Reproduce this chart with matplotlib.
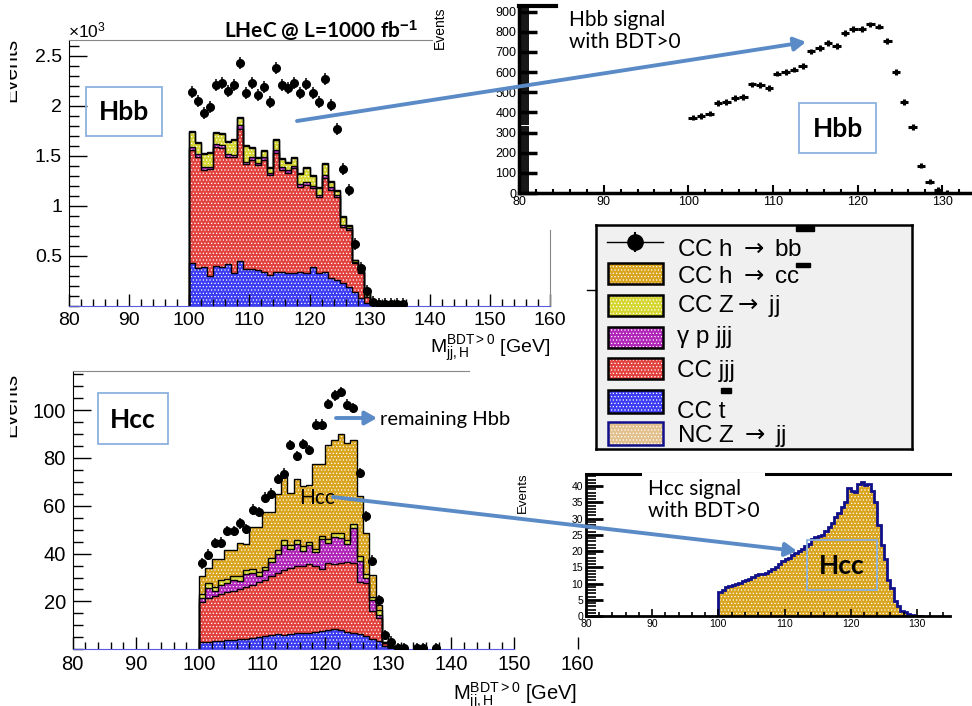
import numpy as np
import matplotlib.pyplot as plt
from matplotlib.patches import Rectangle
from matplotlib.ticker import MultipleLocator, FixedLocator

plt.rcParams['font.family'] = ['Liberation Sans', 'DejaVu Sans']
plt.rcParams['mathtext.fontset'] = 'custom'
plt.rcParams['mathtext.rm'] = 'Liberation Sans'
plt.rcParams['mathtext.it'] = 'Liberation Sans:italic'
plt.rcParams['mathtext.bf'] = 'Liberation Sans:bold'
plt.rcParams['mathtext.sf'] = 'DejaVu Sans'
plt.rcParams['hatch.color'] = 'white'
plt.rcParams['hatch.linewidth'] = 0.5

# ----------------------------
# data
# ----------------------------
edges = np.arange(100, 132)          # 1 GeV bins, 100..131

# Hbb selection, x10^3 events
hbb_cct = [0.43, 0.38, 0.39, 0.30, 0.40, 0.39, 0.42, 0.33, 0.45, 0.37, 0.37, 0.36, 0.34, 0.31, 0.34, 0.34,
           0.33, 0.33, 0.34, 0.33, 0.39, 0.33, 0.34, 0.28, 0.26, 0.23, 0.19, 0.14, 0.08, 0.03, 0.01]
hbb_ccjjj = [1.13, 1.11, 0.97, 1.07, 1.19, 1.19, 1.07, 1.16, 1.32, 1.05, 1.09, 1.05, 1.12, 1.00, 1.19, 1.02,
             1.00, 1.05, 0.85, 0.88, 0.79, 0.76, 0.94, 0.88, 0.83, 0.56, 0.57, 0.29, 0.25, 0.06, 0.02]
hbb_gpjjj = [0.03, 0.03, 0.03, 0.02, 0.03, 0.03, 0.03, 0.02, 0.04, 0.02, 0.03, 0.02, 0.03, 0.02, 0.03, 0.03,
             0.03, 0.02, 0.03, 0.03, 0.02, 0.02, 0.03, 0.03, 0.02, 0.02, 0.02, 0.01, 0.01, 0.00, 0.00]
hbb_ccz = [0.15, 0.11, 0.13, 0.14, 0.11, 0.11, 0.12, 0.15, 0.07, 0.16, 0.09, 0.05, 0.06, 0.05, 0.10, 0.08,
           0.07, 0.08, 0.10, 0.14, 0.10, 0.07, 0.11, 0.05, 0.04, 0.08, 0.02, 0.02, 0.02, 0.04, 0.01]
hbb_cchcc = [0.01, 0.01, 0.01, 0.01, 0.01, 0.01, 0.01, 0.01, 0.01, 0.01, 0.01, 0.01, 0.01, 0.01, 0.01, 0.01,
             0.01, 0.01, 0.01, 0.01, 0.01, 0.01, 0.01, 0.01, 0.01, 0.01, 0.01, 0.00, 0.00, 0.00, 0.00]
hbb_data_x = np.arange(100.5, 136.0, 1.0)
hbb_data = [2.14, 2.05, 1.93, 1.99, 2.21, 2.23, 2.15, 2.21, 2.43, 2.13, 2.23, 2.11, 2.19, 2.04, 2.38, 2.21,
            2.18, 2.23, 2.13, 2.22, 2.13, 2.04, 2.27, 2.01, 1.77, 1.37, 1.16, 0.62, 0.38, 0.15, 0.04, 0.02,
            0.02, 0.02, 0.02, 0.02]

# Hcc selection, events
hcc_cct = [3.0, 3.2, 3.3, 3.5, 3.8, 4.0, 4.3, 4.5, 4.8, 5.0, 5.5, 5.8, 6.5, 6.0, 6.5, 6.8,
           6.8, 7.0, 7.2, 7.5, 8.0, 8.5, 8.0, 7.3, 7.0, 6.5, 5.7, 4.5, 3.6, 1.5, 0.2]
hcc_ccjjj = [16.8, 18.3, 19.0, 19.5, 20.0, 20.5, 21.0, 21.5, 22.2, 23.0, 23.5, 24.7, 25.5, 27.0, 27.5, 28.2,
             28.2, 28.5, 27.8, 26.0, 28.0, 27.0, 28.0, 29.2, 29.0, 21.5, 21.8, 11.5, 9.4, 1.0, 0.3]
hcc_gpjjj = [1.5, 4.0, 2.2, 4.0, 3.7, 4.5, 3.2, 5.5, 5.0, 2.5, 4.0, 6.0, 8.0, 10.5, 8.0, 9.0,
             6.0, 8.0, 5.5, 12.5, 8.5, 11.5, 10.5, 7.5, 14.5, 9.0, 2.5, 4.5, 1.5, 0.2, 0.1]
hcc_ccz = [1.7, 2.0, 1.5, 2.0, 1.8, 1.5, 2.0, 1.5, 1.5, 2.0, 1.5, 1.5, 1.5, 2.0, 1.5, 1.5,
           2.0, 1.5, 1.5, 1.5, 1.5, 1.5, 2.0, 1.5, 2.0, 2.0, 1.5, 1.5, 2.0, 0.3, 0.2]
hcc_cchcc = [7.6, 6.3, 11.6, 8.6, 12.4, 11.2, 14.0, 10.8, 17.7, 18.7, 22.9, 19.4, 23.3, 26.3, 21.9, 25.8,
             25.2, 23.6, 35.6, 30.1, 39.3, 38.8, 41.3, 40.7, 35.1, 25.0, 16.9, 9.0, 2.0, 0.2, 0.6]
hcc_data_x = np.arange(100.5, 138.0, 1.0)
hcc_data = [35.9, 39.6, 44.5, 44.6, 49.4, 49.5, 52.6, 50.2, 58.4, 57.4, 63.4, 65.1, 71.1, 73.4, 85.3, 80.7,
            85.7, 83.2, 93.9, 93.9, 102.6, 106.1, 107.5, 102.2, 100.8, 73.7, 55.6, 37.0, 20.6, 6.0, 3.2, 0.4,
            0.4, np.nan, 0.4, 0.4, np.nan, 0.4]

# Hbb signal with BDT>0
hbb_sig_x = np.arange(100.5, 131.0, 1.0)
hbb_sig = [374, 383, 394, 448, 453, 473, 476, 539, 535, 522, 593, 601, 612, 629, 703, 719,
           744, 731, 793, 813, 813, 837, 826, 755, 599, 453, 328, 136, 57, 16, 2]

# Hcc signal with BDT>0, 0.5 GeV bins
hcc_sig_edges = np.arange(100, 131.5, 0.5)
hcc_sig = [7.5, 8.0, 9.0, 9.2, 9.5, 9.8, 10.2, 10.8, 11.2, 11.5,
           12.0, 12.5, 12.8, 13.0, 13.2, 13.8, 14.5, 15.2, 16.0, 16.8,
           17.5, 18.0, 18.7, 19.3, 20.0, 20.6, 21.5, 22.2, 23.8, 24.2,
           24.5, 25.0, 26.3, 27.5, 28.7, 30.5, 31.8, 33.5, 35.0, 39.3,
           38.5, 38.2, 40.5, 41.3, 40.2, 40.5, 38.5, 35.0, 28.0, 22.0,
           17.5, 11.0, 8.5, 4.5, 3.0, 1.5, 1.2, 0.5, 0.3, 0.1, 0.0, 0.0]

ARR = '$\\mathsf{\\rightarrow}$'
labels = ['CC h ' + ARR + ' bb', 'CC h ' + ARR + ' cc', 'CC Z' + ARR + ' jj', '\u03b3 p jjj',
          'CC jjj', 'CC t', 'NC Z ' + ARR + ' jj']
C_HCC, C_Z, C_GP, C_JJJ, C_T, C_NCZ = '#d9a41e', '#d6d633', '#b026b8', '#e2433f', '#3c3cf2', '#e2c18e'
ARROW = '#5b8bc6'
HATCH = '.....'

# ----------------------------
# figure helpers (pixel boxes)
# ----------------------------
W, H = 972, 706


def box(x0, y0, x1, y1):
    return [x0 / W, 1 - y1 / H, (x1 - x0) / W, (y1 - y0) / H]


def draw_stack(ax, comps, colors):
    base = np.zeros(len(edges) - 1)
    tops = []
    for vals, c in zip(comps, colors):
        top = base + np.asarray(vals)
        ax.stairs(top, edges, baseline=base, fill=True, facecolor=c, hatch=HATCH, lw=0)
        tops.append(top)
        base = top
    for top in tops:
        ax.stairs(top, edges, baseline=0, color='k', lw=1.0)


def root_ticks(ax, fs, ymaj, ymin, xlen=(9, 5), ylen=(13, 7)):
    ax.xaxis.set_major_locator(MultipleLocator(10))
    ax.xaxis.set_minor_locator(MultipleLocator(2))
    ax.yaxis.set_major_locator(ymaj)
    ax.yaxis.set_minor_locator(MultipleLocator(ymin))
    ax.tick_params(axis='x', which='major', direction='in', length=xlen[0], width=1, labelsize=fs, pad=4)
    ax.tick_params(axis='x', which='minor', direction='in', length=xlen[1], width=1)
    ax.tick_params(axis='y', which='major', direction='in', length=ylen[0], width=1, labelsize=fs, pad=5)
    ax.tick_params(axis='y', which='minor', direction='in', length=ylen[1], width=1)


fig = plt.figure(figsize=(W / 100, H / 100), dpi=100)

# ----------------------------
# top-left: Hbb
# ----------------------------
ax1 = fig.add_axes(box(69, 40, 550, 306))
ax1.set_xlim(80, 160)
ax1.set_ylim(0, 2.66)
draw_stack(ax1, [hbb_cct, hbb_ccjjj, hbb_gpjjj, hbb_ccz, hbb_cchcc], [C_T, C_JJJ, C_GP, C_Z, C_HCC])
ax1.errorbar(hbb_data_x, hbb_data, yerr=0.06, fmt='o', color='k', ms=5.5, elinewidth=1.1, capsize=0, zorder=5)
root_ticks(ax1, 14, FixedLocator([0.5, 1, 1.5, 2, 2.5]), 0.1)
ax1.set_yticklabels(['0.5', '1', '1.5', '2', '2.5'])
ax1.spines['bottom'].set_color('#5a5ae0')
ax1.spines['top'].set_bounds(80, 140.4)
ax1.spines['top'].set_color('#888888')
ax1.spines['right'].set_bounds(0, 0.76)
ax1.spines['right'].set_color('#888888')

# ----------------------------
# bottom-left: Hcc
# ----------------------------
ax2 = fig.add_axes(box(72.7, 371, 577.5, 649.3))
ax2.set_xlim(80, 160)
ax2.set_ylim(0, 116.3)
draw_stack(ax2, [hcc_cct, hcc_ccjjj, hcc_gpjjj, hcc_ccz, hcc_cchcc], [C_T, C_JJJ, C_GP, C_Z, C_HCC])
ax2.errorbar(hcc_data_x, hcc_data, yerr=2.2, fmt='o', color='k', ms=5.5, elinewidth=1.1, capsize=0, zorder=5)
root_ticks(ax2, 14.5, FixedLocator([20, 40, 60, 80, 100]), 5)
ax2.xaxis.set_minor_locator(FixedLocator(np.arange(80, 151, 2)))
ax2.spines['bottom'].set_color('#5a5ae0')
ax2.spines['bottom'].set_bounds(80, 150)
ax2.spines['top'].set_bounds(80, 142.8)
ax2.spines['top'].set_color('#888888')
ax2.spines['right'].set_visible(False)
ax2.xaxis.get_major_ticks()[-1].tick1line.set_visible(False)

# ----------------------------
# top-right inset: Hbb signal
# ----------------------------
ins1 = fig.add_axes(box(519, 6, 972, 193))
ins1.set_xlim(80, 133.5)
ins1.set_ylim(0, 928)
ins1.errorbar(hbb_sig_x, hbb_sig, xerr=0.5, yerr=14, fmt='none', ecolor='k', elinewidth=2.2)
ins1.xaxis.set_major_locator(MultipleLocator(10))
ins1.xaxis.set_minor_locator(MultipleLocator(2))
ins1.yaxis.set_major_locator(MultipleLocator(100))
ins1.yaxis.set_minor_locator(MultipleLocator(10))
ins1.tick_params(axis='both', which='both', direction='in')
ins1.tick_params(axis='both', which='major', labelsize=9, pad=2)
ins1.tick_params(axis='y', which='major', length=13, width=2.5)
ins1.tick_params(axis='y', which='minor', length=7, width=1.3)
ins1.tick_params(axis='x', which='major', length=6, width=1.5)
ins1.tick_params(axis='x', which='minor', length=3, width=1.5)
for s in ['left', 'bottom']:
    ins1.spines[s].set_linewidth(2.5)
ins1.spines['top'].set_linewidth(3)
ins1.spines['top'].set_bounds(80, 84.4)
ins1.spines['right'].set_visible(False)

# ----------------------------
# bottom-right inset: Hcc signal
# ----------------------------
ins2 = fig.add_axes(box(586, 474, 950, 616))
ins2.set_xlim(80, 135.0)
ins2.set_ylim(0, 43.7)
ins2.stairs(hcc_sig, hcc_sig_edges, baseline=0, fill=True, facecolor=C_HCC, hatch=HATCH, lw=0)
ins2.stairs(hcc_sig, hcc_sig_edges, baseline=0, color='#10108a', lw=2)
ins2.xaxis.set_major_locator(MultipleLocator(10))
ins2.xaxis.set_minor_locator(MultipleLocator(2))
ins2.yaxis.set_major_locator(MultipleLocator(5))
ins2.yaxis.set_minor_locator(MultipleLocator(1))
ins2.tick_params(axis='both', which='both', direction='in')
ins2.tick_params(axis='both', which='major', labelsize=7.5, pad=2)
ins2.tick_params(axis='y', which='major', length=12, width=2)
ins2.tick_params(axis='y', which='minor', length=7, width=1.2)
ins2.tick_params(axis='x', which='major', length=5, width=1.2)
ins2.tick_params(axis='x', which='minor', length=3, width=1.2)
for s in ['left', 'bottom']:
    ins2.spines[s].set_linewidth(2)
ins2.spines['top'].set_linewidth(2.2)
ins2.spines['right'].set_visible(False)

# ----------------------------
# legend panel
# ----------------------------
lg = fig.add_axes(box(596, 225, 912, 449))
lg.set_xlim(0, 316)
lg.set_ylim(224, 0)
lg.set_facecolor('#f0f0f0')
lg.set_xticks([])
lg.set_yticks([])
for s in lg.spines.values():
    s.set_linewidth(1.8)
lg.plot([11, 67], [17, 17], color='k', lw=1)
lg.plot([39, 39], [8, 26], color='k', lw=1.5)
lg.plot([39], [17], 'o', color='k', ms=11)
rows = [(38.3, 59.3, C_HCC, 'k'), (70, 91, C_Z, 'k'), (101.7, 122.7, C_GP, 'k'),
        (133.3, 154.3, C_JJJ, 'k'), (165, 187.7, C_T, 'k'), (196.7, 220, C_NCZ, '#10108a')]
for y0, y1, c, ec in rows:
    lg.add_patch(Rectangle((12, y0), 55, y1 - y0, facecolor=c, hatch=HATCH, lw=0))
    lg.add_patch(Rectangle((12, y0), 55, y1 - y0, fill=False, edgecolor=ec, lw=1.8))
for lab, yb in zip(labels, [31, 58.3, 86.7, 117.7, 151.7, 193.3, 216.7]):
    lg.text(81, yb, lab, fontsize=17.5, va='baseline', ha='left')
# the bars over b, c and t sit displaced, as in the original
for x0, y0, w, h in [(200, 1, 18, 5), (200, 38, 14, 4), (125, 163, 10, 5)]:
    lg.add_patch(Rectangle((x0, y0), w, h, color='k'))

# ----------------------------
# overlay: annotations in pixel coordinates
# ----------------------------
ov = fig.add_axes([0, 0, 1, 1], zorder=10)
ov.set_xlim(0, W)
ov.set_ylim(H, 0)
ov.axis('off')

# the left "Events" titles are cut in the original
for yc in [70, 405]:
    t = ov.text(11, yc, 'Events', rotation=90, fontsize=15, ha='center', va='center', clip_on=True)
    t.set_clip_path(Rectangle((10, 0), 40, H, transform=ov.transData))
ov.text(440, 28, 'Events', rotation=90, fontsize=10, ha='center', va='center')
ov.text(523, 493, 'Events', rotation=90, fontsize=9.5, ha='center', va='center')
ov.text(68, 37, '$\\times$10$^{3}$', fontsize=12.5, ha='left', va='baseline')
ov.text(321, 38, 'LHeC @ L=1000 fb$^{\\mathbf{-1}}$', fontsize=15, weight='bold',
        family=['Lato', 'DejaVu Sans'], ha='center', va='baseline')
ov.text(550, 353, 'M$_{\\rm jj,H}^{\\rm BDT>0}$ [GeV]', fontsize=14, ha='right', va='baseline')
ov.text(577, 700, 'M$_{\\rm jj,H}^{\\rm BDT>0}$ [GeV]', fontsize=14.5, ha='right', va='baseline')
ov.plot([587, 596], [290, 290], color='k', lw=1)

for x0, y0, x1, y1, t in [(86, 87, 162, 136, 'Hbb'), (98, 393, 168, 444, 'Hcc'),
                          (799, 103, 876, 153, 'Hbb'), (807, 540, 877, 590, 'Hcc')]:
    ov.add_patch(Rectangle((x0, y0), x1 - x0, y1 - y0, fill=False, edgecolor='#8cb1de', lw=1.3))
    ov.text((x0 + x1) / 2, (y0 + y1) / 2 + 1, t, fontsize=19, weight='bold',
            family=['Lato', 'DejaVu Sans'], ha='center', va='center')

ov.text(569, 31, 'Hbb signal\nwith BDT>0', fontsize=15, family=['Lato', 'DejaVu Sans'],
        ha='left', va='center', linespacing=1.15,
        bbox=dict(facecolor='white', edgecolor='none', pad=3))
ov.text(648, 500, 'Hcc signal\nwith BDT>0', fontsize=15, family=['Lato', 'DejaVu Sans'],
        ha='left', va='center', linespacing=1.15,
        bbox=dict(facecolor='white', edgecolor='none', pad=4))
ov.text(380, 419, 'remaining Hbb', fontsize=14.5, family=['Lato', 'DejaVu Sans'], ha='left', va='center')
ov.text(317, 498, 'Hcc', fontsize=15, family=['Lato', 'DejaVu Sans'], ha='center', va='center')

arrow = dict(arrowstyle='-|>,head_length=0.7,head_width=0.4', color=ARROW, lw=2.8,
             shrinkA=0, shrinkB=0)
ov.annotate('', xy=(806, 42), xytext=(297, 121), arrowprops=arrow)
ov.annotate('', xy=(377, 418), xytext=(336, 418), arrowprops=arrow)
ov.annotate('', xy=(797, 551), xytext=(333, 497), arrowprops=arrow)

fig.savefig('out.png', dpi=100)
